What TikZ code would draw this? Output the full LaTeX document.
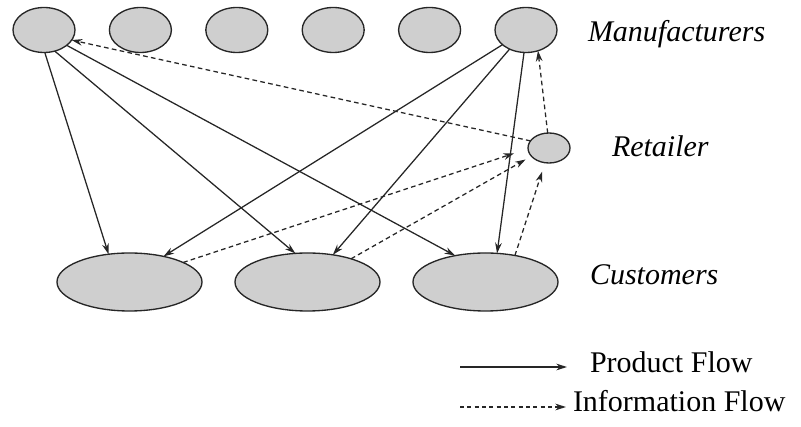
\documentclass[tikz,border=0pt]{standalone}
\usepackage{fontspec}
\setmainfont{Liberation Serif}
\usetikzlibrary{arrows.meta,shapes.geometric}
\begin{document}
\begin{tikzpicture}[x=0.75pt,y=-0.75pt,
  every node/.style={inner sep=0pt, outer sep=0pt},
  blob/.style={ellipse, draw=black!85, line width=1pt, fill=gray!38},
  mfr/.style={blob, minimum width=46.5pt, minimum height=33.75pt},
  cust/.style={blob, minimum width=108.75pt, minimum height=43.5pt},
  ret/.style={blob, minimum width=31.5pt, minimum height=22.5pt},
  prod/.style={draw=black!85, line width=0.95pt, -{Stealth[length=8pt,width=5pt]}},
  info/.style={prod, dash pattern=on 3.5pt off 2.5pt},
  lbl/.style={anchor=base west, font=\fontsize{22.5}{27}\selectfont\itshape},
  leg/.style={anchor=base west, font=\fontsize{22.5}{27}\selectfont}]
\useasboundingbox (0,0) rectangle (801,427);
% manufacturers
\node[mfr] (m1) at (44,30) {};
\node[mfr] (m2) at (140.4,30) {};
\node[mfr] (m3) at (236.8,30) {};
\node[mfr] (m4) at (333.2,30) {};
\node[mfr] (m5) at (429.6,30) {};
\node[mfr] (m6) at (526,30) {};
% retailer
\node[ret] (r) at (549,148) {};
% customers
\node[cust] (c1) at (129.5,282) {};
\node[cust] (c2) at (307.5,282) {};
\node[cust] (c3) at (485.5,282) {};
% labels
\node[lbl] (lm) at (588,42) {Manufacturers};
\node[lbl] (lr) at (612,157) {Retailer};
\node[lbl] (lc) at (590,285) {Customers};
% product flows
\draw[prod] (m1.-88) -- (c1.127);
\draw[prod] (m1.-63) -- (c2.113);
\draw[prod] (m1.-34) -- (c3.139);
\draw[prod] (m6) -- (c1.37);
\draw[prod] (m6) -- (c2.47);
\draw[prod] (m6.-95) -- (c3.68);
% information flows
\draw[info] (r.159) -- (m1.-20);
\draw[info] (r.95) -- (m6.-60);
\draw[info, shorten >=11pt] (c1.20) -- (r.182);
\draw[info, shorten >=5pt] (c2.28) -- (r.205);
\draw[info, shorten >=7pt] (c3.42) -- (r.-105);
% legend
\coordinate (pa) at (460,367);
\coordinate (pb) at (567,367);
\coordinate (ia) at (460,407);
\coordinate (ib) at (566,407);
\draw[prod] (pa) -- (pb);
\draw[info, dash pattern=on 3pt off 2.5pt] (ia) -- (ib);
\node[leg] (lp) at (590,373) {Product Flow};
\node[leg] (li) at (573,412) {Information Flow};
\end{tikzpicture}
\end{document}
